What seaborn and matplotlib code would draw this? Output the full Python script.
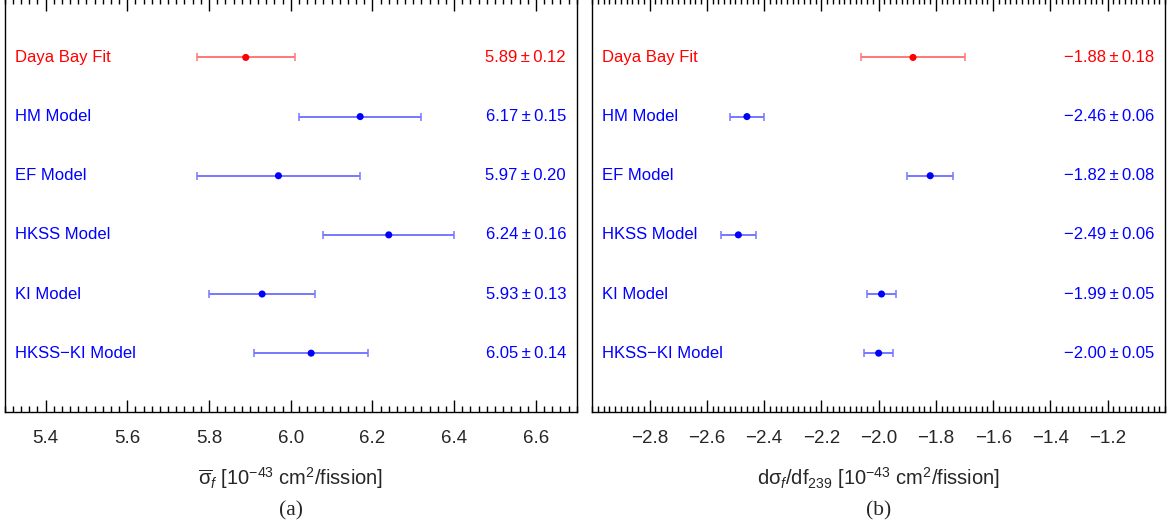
import numpy as np
import pandas as pd
import matplotlib
matplotlib.use("Agg")
import matplotlib.pyplot as plt
import seaborn as sns
from matplotlib.ticker import MultipleLocator, FixedLocator

# ---------------- data ----------------
labels = ["Daya Bay Fit", "HM Model", "EF Model", "HKSS Model", "KI Model", "HKSS\u2212KI Model"]
kinds = ["fit", "model", "model", "model", "model", "model"]
sigma_vals = [5.89, 6.17, 5.97, 6.24, 5.93, 6.05]
sigma_errs = [0.12, 0.15, 0.20, 0.16, 0.13, 0.14]
slope_vals = [-1.88, -2.46, -1.82, -2.49, -1.99, -2.00]
slope_errs = [0.18, 0.06, 0.08, 0.06, 0.05, 0.05]
left_ticks = [5.4, 5.6, 5.8, 6.0, 6.2, 6.4, 6.6]
right_ticks = [-2.8, -2.6, -2.4, -2.2, -2.0, -1.8, -1.6, -1.4, -1.2]

sns.set_theme(style="ticks")
plt.rcParams["font.family"] = ["Liberation Sans", "DejaVu Sans"]
plt.rcParams["mathtext.fontset"] = "custom"
plt.rcParams["mathtext.rm"] = "Liberation Sans"
plt.rcParams["mathtext.it"] = "Liberation Sans:italic"
plt.rcParams["mathtext.bf"] = "Liberation Sans:bold"

W, H = 1168, 531
fig = plt.figure(figsize=(W / 100, H / 100), dpi=100)

pal_text = {"fit": "#ff0000", "model": "#0000ff"}
pal_line = {"fit": "#ff7777", "model": "#7777ff"}

ax_l = fig.add_axes([4.7 / W, (H - 412.3) / H, 572.0 / W, 414.0 / H])
ax_r = fig.add_axes([592.3 / W, (H - 412.3) / H, 572.7 / W, 414.0 / H])


def fmt(v):
    s = f"{v:.2f}"
    return s.replace("-", "\u2212")


def draw(ax, vals, errs, xlim, ticks, xlabel, panel):
    df = pd.DataFrame({"label": labels, "kind": kinds, "val": vals, "err": errs,
                       "row": np.arange(len(labels))})
    for k in ["fit", "model"]:
        sub = df[df.kind == k]
        ax.errorbar(sub.val, sub.row, xerr=sub.err, fmt="none", ecolor=pal_line[k],
                    elinewidth=1.4, capsize=2.6, capthick=1.1, zorder=2)
    sns.scatterplot(data=df, x="val", y="row", hue="kind", palette=pal_text,
                    s=26, linewidth=0, legend=False, ax=ax, zorder=3)
    for _, r in df.iterrows():
        ax.text(0.0175, r.row, r.label, color=pal_text[r.kind], fontsize=12,
                ha="left", va="center", transform=ax.get_yaxis_transform())
        ax.text(0.9815, r.row, f"{fmt(r.val)}\u2009\u00b1\u2009{r.err:.2f}",
                color=pal_text[r.kind], fontsize=12, ha="right", va="center",
                transform=ax.get_yaxis_transform())
    ax.set_xlim(*xlim)
    ax.set_ylim(6.0, -1.0)
    ax.xaxis.set_major_locator(FixedLocator(ticks))
    ax.set_xticklabels([f"{t:.1f}".replace("-", "\u2212") for t in ticks])
    ax.xaxis.set_minor_locator(MultipleLocator(0.02))
    ax.set_yticks([])
    ax.set_ylabel("")
    ax.tick_params(axis="x", which="both", direction="in", top=True, bottom=True,
                   labelsize=13.5, pad=13, color="black", width=1.0)
    ax.tick_params(axis="x", which="major", length=9)
    ax.tick_params(axis="x", which="minor", length=4.5)
    for name, sp in ax.spines.items():
        sp.set_visible(name != "top")
        sp.set_color("black")
        sp.set_linewidth(1.0)
    ax.set_xlabel(xlabel, fontsize=14.5, labelpad=13)
    bb = ax.get_position()
    fig.text((bb.x0 + bb.x1) / 2, 1 - 511 / H, panel, ha="center", va="center",
             fontsize=15.5, family=["Liberation Serif", "DejaVu Serif"])


draw(ax_l, sigma_vals, sigma_errs, (5.3, 6.7), left_ticks,
     r"$\overline{\mathrm{\sigma}}_f$ [10$^{-43}$ cm$^2$/fission]", "(a)")
draw(ax_r, slope_vals, slope_errs, (-3.0, -1.0), right_ticks,
     r"d$\mathrm{\sigma}_f$/df$_{239}$ [10$^{-43}$ cm$^2$/fission]", "(b)")

fig.savefig("out.png", dpi=100)
